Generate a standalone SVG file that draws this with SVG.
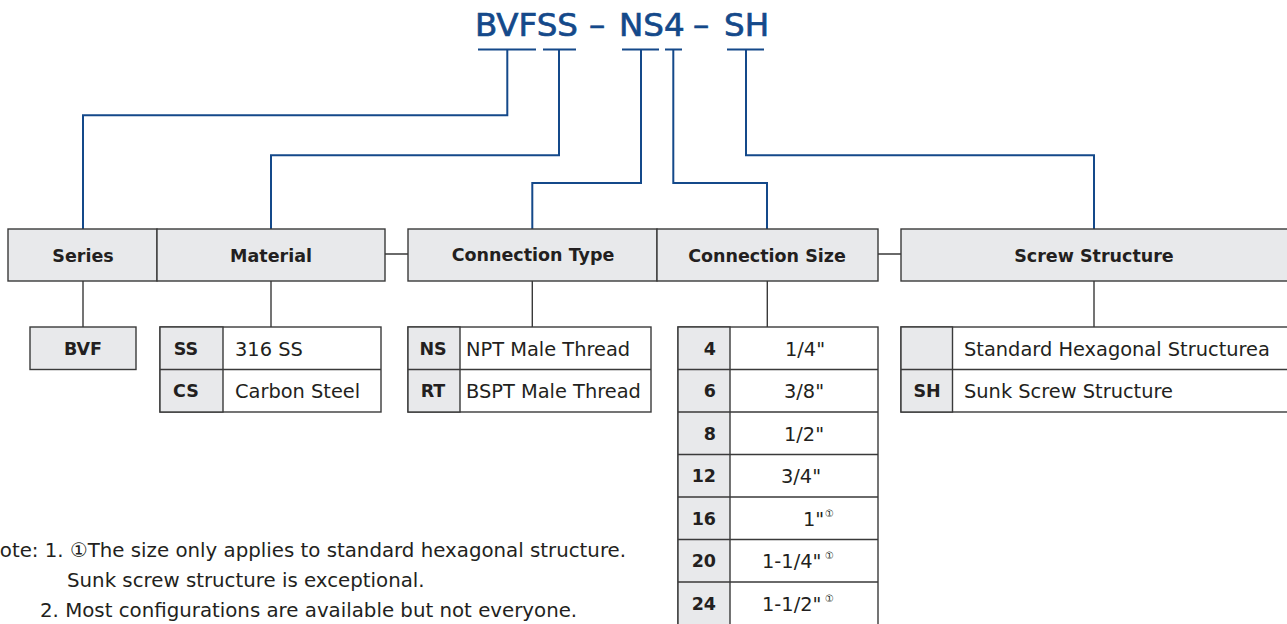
<svg xmlns="http://www.w3.org/2000/svg" width="1287" height="624" viewBox="0 0 1287 624">
<style>
.title{font-family:"DejaVu Sans",sans-serif;font-size:32.5px;fill:#14498a;stroke:#14498a;stroke-width:0.7}
.blue{fill:none;stroke:#14498a;stroke-width:2}
.gl{fill:none;stroke:#3a3a3a;stroke-width:1.4}
.hd{fill:#e8e9eb;stroke:#3a3a3a;stroke-width:1.4}
.cell{fill:#ffffff;stroke:#3a3a3a;stroke-width:1.4}
.ht{font-family:"DejaVu Sans",sans-serif;font-size:17.5px;font-weight:bold;fill:#231f20;text-anchor:middle}
.ct{font-family:"DejaVu Sans",sans-serif;font-size:17.5px;font-weight:bold;fill:#231f20}
.dt{font-family:"DejaVu Sans",sans-serif;font-size:19.4px;fill:#231f20}
.sup{font-family:"DejaVu Sans",sans-serif;font-size:10px;fill:#231f20}
.nt{font-family:"DejaVu Sans",sans-serif;font-size:19.8px;fill:#231f20}
</style>
<g id="title">
<text class="title" x="475" y="36">BVFSS</text>
<text class="title" x="589" y="36">–</text>
<text class="title" x="619" y="36">NS4</text>
<text class="title" x="693" y="36">–</text>
<text class="title" x="724" y="36">SH</text>
</g>
<g id="connectors">
<path class="blue" d="M478 49.5H536M543 49.5H576M622 49.5H659M665 49.5H682M727 49.5H764"/>
<path class="blue" d="M507.3 49.5V115.3H83V229"/>
<path class="blue" d="M559 49.5V155.3H271V229"/>
<path class="blue" d="M641 49.5V183H532.3V229"/>
<path class="blue" d="M673.3 49.5V183H767V229"/>
<path class="blue" d="M746 49.5V155.3H1094V229"/>
<path class="gl" d="M385 254H408M878 254H901"/>
<path class="gl" d="M83 281V327M271 281V327M532.3 281V327M767.3 281V327M1094 281V327"/>
</g>
<g id="series">
<rect class="hd" x="8" y="229" width="149" height="52"/>
<text class="ht" x="83" y="262">Series</text>
<rect class="hd" x="30" y="327" width="106" height="42.5"/>
<text class="ht" x="83" y="355">BVF</text>
</g>
<g id="material">
<rect class="hd" x="157" y="229" width="228" height="52"/>
<text class="ht" x="271" y="262">Material</text>
<rect class="cell" x="160" y="327" width="221" height="85"/>
<rect class="hd" x="160" y="327" width="63" height="85"/>
<path class="gl" d="M160 369.5H381"/>
<text class="ht" x="186" y="355">SS</text>
<text class="ht" x="186" y="397">CS</text>
<text class="dt" x="235" y="356">316 SS</text>
<text class="dt" x="235" y="398">Carbon Steel</text>
</g>
<g id="connection-type">
<rect class="hd" x="408" y="229" width="249" height="52"/>
<text class="ht" x="533" y="261">Connection Type</text>
<rect class="cell" x="408" y="327" width="243" height="85"/>
<rect class="hd" x="408" y="327" width="52" height="85"/>
<path class="gl" d="M408 369.5H651"/>
<text class="ht" x="433" y="355">NS</text>
<text class="ht" x="433" y="397">RT</text>
<text class="dt" x="466" y="356">NPT Male Thread</text>
<text class="dt" x="466" y="398">BSPT Male Thread</text>
</g>
<g id="connection-size">
<rect class="hd" x="657" y="229" width="221" height="52"/>
<text class="ht" x="767" y="262">Connection Size</text>
<rect class="cell" x="678" y="327" width="200" height="298"/>
<rect class="hd" x="678" y="327" width="52" height="298"/>
<path class="gl" d="M678 369.5H878M678 412H878M678 454.5H878M678 497H878M678 539.5H878M678 582H878"/>
<g class="ct" text-anchor="end">
<text x="716" y="355">4</text>
<text x="716" y="397">6</text>
<text x="716" y="440">8</text>
<text x="716" y="482">12</text>
<text x="716" y="525">16</text>
<text x="716" y="567">20</text>
<text x="716" y="610">24</text>
</g>
<g class="dt">
<text x="785" y="356">1/4"</text>
<text x="784" y="398">3/8"</text>
<text x="784" y="441">1/2"</text>
<text x="781" y="483">3/4"</text>
<text x="803" y="526">1"</text>
<text x="762" y="568">1-1/4"</text>
<text x="762" y="611">1-1/2"</text>
</g>
<text class="sup" x="825" y="517">①</text>
<text class="sup" x="825" y="559">①</text>
<text class="sup" x="825" y="602">①</text>
</g>
<g id="screw-structure">
<rect class="hd" x="901" y="229" width="390" height="52"/>
<text class="ht" x="1094" y="262">Screw Structure</text>
<rect class="cell" x="901" y="327" width="390" height="85"/>
<rect class="hd" x="901" y="327" width="51.5" height="85"/>
<path class="gl" d="M901 369.5H1291"/>
<text class="ht" x="927" y="397">SH</text>
<text class="dt" x="964" y="356">Standard Hexagonal Structurea</text>
<text class="dt" x="964" y="398">Sunk Screw Structure</text>
</g>
<g id="notes">
<text class="nt" x="-15" y="557">Note: 1. ①The size only applies to standard hexagonal structure.</text>
<text class="nt" x="67" y="587">Sunk screw structure is exceptional.</text>
<text class="nt" x="40" y="617">2. Most configurations are available but not everyone.</text>
</g>
</svg>
